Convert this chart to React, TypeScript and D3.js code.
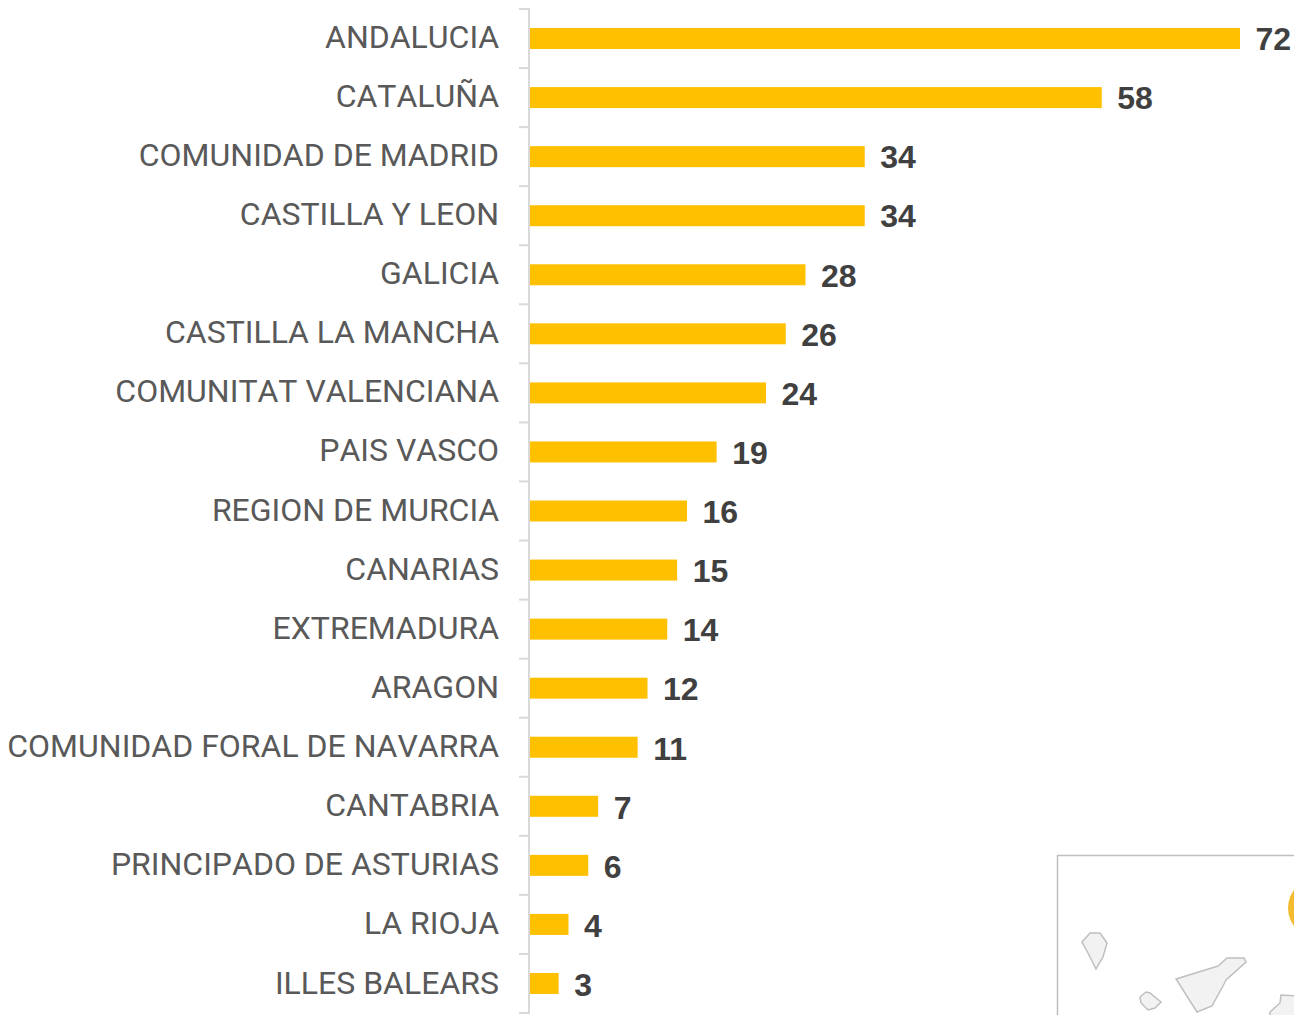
import React from "react";
import * as d3 from "d3";

const categories = ["ANDALUCIA","CATALUÑA","COMUNIDAD DE MADRID","CASTILLA Y LEON","GALICIA","CASTILLA LA MANCHA","COMUNITAT VALENCIANA","PAIS VASCO","REGION DE MURCIA","CANARIAS","EXTREMADURA","ARAGON","COMUNIDAD FORAL DE NAVARRA","CANTABRIA","PRINCIPADO DE ASTURIAS","LA RIOJA","ILLES BALEARS"];
const values = [72,58,34,34,28,26,24,19,16,15,14,12,11,7,6,4,3];

// Decorative inset map: island outlines
const laPalma = [[1082,942],[1090,933],[1100,933],[1107,943],[1103,957],[1096,969],[1088,953]];
const tenerife = [[1176,979],[1218,966],[1227,958],[1244,958],[1246,962],[1226,980],[1224,984],[1212,1006],[1197,1012]];
const gomera = [[1140,997],[1146,992],[1150,993],[1161,1002],[1155,1008],[1148,1010],[1141,1003]];
const granCanaria = [[1270,1012],[1280,1003],[1281,995],[1300,996],[1310,1030],[1270,1030]];
const islands = [laPalma, tenerife, gomera, granCanaria];

export default function App() {
  const x = d3.scaleLinear().domain([0, 72]).range([529, 1240]);
  const y = d3.scaleBand<string>().domain(categories).range([9, 1013]);
  const bh = 21;
  const font = "Roboto, sans-serif";
  const ticks = d3.range(categories.length + 1).map(i => 9 + i * y.step());
  const outline = d3.line().curve(d3.curveLinearClosed);
  const last = categories.length - 1;
  return (
    <svg width={1294} height={1015} style={{ position: "fixed", left: 0, top: 0, background: "#fff" }} fontFamily={font}>
      {categories.map((c, i) => {
        const cy = y(c)! + y.bandwidth() / 2;
        const drift = 1 - i / last;
        return (
          <g key={c}>
            <text x={499} y={cy - 1.4 - drift} dy="0.36em" textAnchor="end" fontSize={32} fill="#595959" style={{ fontKerning: "none" }}>{c}</text>
            <rect x={x(0)} y={cy - bh / 2} width={x(values[i]) - x(0)} height={bh} fill="#ffc000" />
            <text x={x(values[i]) + 15.5} y={cy + 1 - drift} dy="0.36em" fontSize={32} fontWeight={700} fontFamily="'Liberation Sans', Arial, sans-serif" fill="#404040">{values[i]}</text>
          </g>
        );
      })}
      <line x1={529} x2={529} y1={8.5} y2={1013} stroke="#d9d9d9" strokeWidth={2} />
      {ticks.map((t, i) => <line key={i} x1={519} x2={530} y1={t} y2={t} stroke="#d9d9d9" strokeWidth={2} />)}
      <rect x={1057.5} y={855.5} width={260} height={200} fill="#fff" stroke="#bfbfbf" strokeWidth={1.5} />
      <circle cx={1318} cy={908} r={30} fill="#f4bb30" />
      {islands.map((p, i) => <path key={i} d={outline(p as [number, number][])!} fill="#f2f2f2" stroke="#bfbfbf" strokeWidth={1.5} />)}
    </svg>
  );
}
